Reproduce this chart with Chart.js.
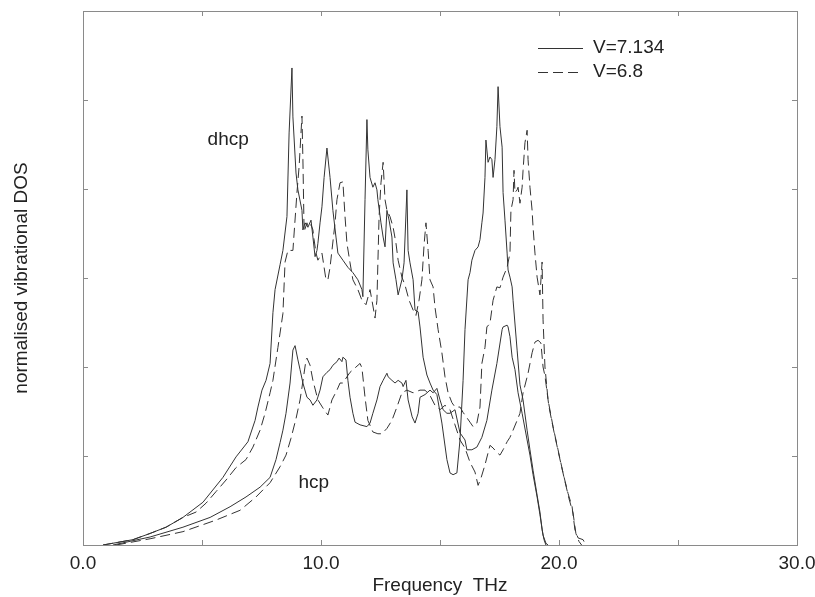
<!DOCTYPE html>
<html>
<head>
<meta charset="utf-8">
<script src="https://cdn.jsdelivr.net/npm/chart.js@4.4.1/dist/chart.umd.min.js"></script>
<style>
  body { margin: 0; background: #fff; }
  canvas { display: block; }
</style>
</head>
<body>
<canvas id="dosChart" width="815" height="597"></canvas>
<script>
// [frequency THz, DOS] pairs
const dhcpV7134 = [
  [0.84,0],[2.10,0.06],[2.82,0.13],[3.49,0.20],[4.20,0.31],[5.04,0.48],[5.88,0.76],[6.43,0.99],
  [6.93,1.16],[7.23,1.40],[7.35,1.55],[7.52,1.74],[7.69,1.85],[7.86,2.04],[7.98,2.61],[8.07,2.87],
  [8.28,3.15],[8.40,3.31],[8.57,3.69],[8.66,4.63],[8.78,5.36],[8.82,4.81],[8.95,4.18],[9.03,3.99],
  [9.20,3.76],[9.24,3.54],[9.33,3.62],[9.45,3.57],[9.58,3.65],[9.66,3.46],[9.75,3.24],[9.83,3.31],
  [9.87,3.39],[9.96,3.62],[10.04,3.80],[10.13,4.13],[10.25,4.46],[10.38,4.13],[10.50,3.76],[10.63,3.46],
  [10.71,3.28],[10.92,3.20],[11.13,3.12],[11.34,3.06],[11.55,2.98],[11.72,2.87],[11.76,2.79],[11.85,3.88],
  [11.93,4.78],[11.97,4.44],[12.06,4.13],[12.18,4.02],[12.27,4.07],[12.35,3.99],[12.39,3.88],[12.52,3.62],
  [12.61,3.46],[12.69,3.35],[12.77,3.76],[12.86,3.65],[12.98,3.46],[13.03,3.17],[13.15,2.98],[13.24,2.81],
  [13.40,2.98],[13.49,3.17],[13.61,3.99],[13.66,3.31],[13.74,3.17],[13.87,2.98],[13.95,2.64],[14.08,2.62],
  [14.16,2.45],[14.29,2.11],[14.45,1.91],[14.58,1.82],[14.71,1.74],[14.87,1.69],[15.08,1.37],[15.29,0.96],
  [15.42,0.81],[15.55,0.79],[15.71,0.81],[15.84,1.18],[15.97,1.85],[16.05,2.42],[16.18,2.98],[16.26,3.06],
  [16.34,3.20],[16.47,3.31],[16.60,3.35],[16.68,3.43],[16.76,3.62],[16.81,3.73],[16.89,4.13],[16.93,4.55],
  [17.02,4.30],[17.10,4.36],[17.18,4.33],[17.23,4.13],[17.31,4.33],[17.39,4.70],[17.44,5.15],[17.52,4.70],
  [17.61,4.47],[17.65,3.96],[17.73,3.65],[17.82,3.28],[17.86,3.09],[17.94,3.01],[18.03,2.90],[18.07,2.75],
  [18.24,2.19],[18.36,1.80],[18.49,1.63],[18.66,1.29],[18.78,1.07],[18.91,0.84],[19.08,0.56],[19.20,0.37],
  [19.29,0.17],[19.37,0.06],[19.45,0]
];
const dhcpV68 = [
  [0.84,0],[2.10,0.06],[2.82,0.13],[3.49,0.20],[4.20,0.31],[4.75,0.37],[5.17,0.47],[5.59,0.60],
  [6.01,0.73],[6.43,0.87],[6.85,0.96],[7.14,1.10],[7.44,1.29],[7.65,1.48],[7.86,1.71],[7.98,1.85],
  [8.19,2.22],[8.40,2.60],[8.49,3.18],[8.61,3.31],[8.82,3.31],[8.99,3.96],[9.08,4.25],[9.20,4.82],
  [9.24,4.33],[9.29,3.52],[9.41,3.62],[9.45,3.57],[9.58,3.60],[9.66,3.54],[9.71,3.43],[9.79,3.28],
  [9.87,3.20],[10.04,3.28],[10.13,3.12],[10.21,2.98],[10.29,2.98],[10.38,3.12],[10.46,3.31],[10.59,3.62],
  [10.67,3.88],[10.80,4.07],[10.92,4.08],[11.01,3.69],[11.09,3.39],[11.22,3.17],[11.34,2.98],[11.55,2.87],
  [11.72,2.75],[11.89,2.70],[12.06,2.87],[12.14,2.75],[12.27,2.55],[12.35,2.75],[12.44,3.69],[12.52,4.07],
  [12.61,4.30],[12.69,3.88],[12.77,3.76],[12.90,3.69],[13.03,3.57],[13.15,3.39],[13.24,3.20],[13.40,3.01],
  [13.53,2.92],[13.70,2.75],[13.87,2.64],[13.99,2.58],[14.12,2.75],[14.24,2.98],[14.33,3.37],[14.41,3.62],
  [14.50,3.31],[14.58,2.98],[14.71,2.90],[14.79,2.67],[14.92,2.42],[15.08,2.16],[15.21,1.89],[15.34,1.71],
  [15.50,1.60],[15.63,1.55],[15.84,1.55],[15.97,1.49],[16.13,1.43],[16.26,1.38],[16.39,1.33],[16.55,1.37],
  [16.68,1.55],[16.76,2.04],[16.89,2.22],[16.97,2.45],[17.10,2.49],[17.23,2.75],[17.39,2.90],[17.52,2.89],
  [17.65,3.01],[17.82,3.12],[17.94,3.28],[17.98,3.76],[18.07,3.88],[18.11,4.21],[18.15,3.96],[18.24,3.99],
  [18.28,4.02],[18.36,3.84],[18.45,4.02],[18.49,4.21],[18.57,4.52],[18.66,4.66],[18.70,4.33],[18.78,4.02],
  [18.87,3.76],[18.91,3.57],[18.99,3.28],[19.08,3.01],[19.20,2.81],[19.29,3.18],[19.33,2.53],[19.41,2.00],
  [19.54,1.63],[19.75,1.33],[19.96,1.07],[20.17,0.81],[20.38,0.58],[20.55,0.43],[20.67,0.17],[20.80,0.08],
  [21.01,0.06],[21.13,0]
];
const hcpV7134 = [
  [1.26,0],[2.82,0.09],[4.20,0.20],[5.34,0.31],[6.18,0.43],[6.85,0.54],[7.44,0.65],[7.86,0.76],
  [8.11,0.96],[8.28,1.15],[8.40,1.29],[8.53,1.48],[8.70,1.82],[8.82,2.19],[8.91,2.24],[9.03,2.08],
  [9.12,1.97],[9.24,1.82],[9.41,1.66],[9.54,1.63],[9.66,1.57],[9.83,1.63],[9.96,1.74],[10.08,1.89],
  [10.25,1.94],[10.38,1.97],[10.50,2.02],[10.67,2.06],[10.76,2.10],[10.88,2.06],[10.92,2.11],[11.05,2.08],
  [11.13,1.85],[11.22,1.66],[11.34,1.48],[11.43,1.38],[11.64,1.35],[11.93,1.33],[12.06,1.37],[12.18,1.48],
  [12.35,1.63],[12.48,1.78],[12.61,1.85],[12.77,1.93],[12.82,1.89],[12.98,1.85],[13.11,1.82],[13.24,1.85],
  [13.40,1.82],[13.45,1.78],[13.57,1.85],[13.66,1.63],[13.83,1.44],[13.95,1.37],[14.08,1.48],[14.16,1.66],
  [14.37,1.69],[14.58,1.74],[14.71,1.71],[14.87,1.76],[15.00,1.63],[15.13,1.52],[15.29,1.48],[15.42,1.48],
  [15.63,1.52],[15.84,1.26],[16.05,1.18],[16.13,1.07],[16.34,1.07],[16.55,1.10],[16.76,1.21],[16.97,1.40],
  [17.18,1.74],[17.39,2.04],[17.61,2.42],[17.65,2.45],[17.82,2.47],[17.86,2.45],[17.94,2.34],[18.03,2.11],
  [18.15,1.97],[18.28,1.71],[18.45,1.48],[18.66,1.18],[18.78,1.01],[18.91,0.79],[19.08,0.54],[19.20,0.34],
  [19.33,0.11],[19.45,0.02],[19.54,0]
];
const hcpV68 = [
  [1.39,0],[2.82,0.07],[4.20,0.15],[5.59,0.28],[6.60,0.39],[7.27,0.54],[7.86,0.70],[8.28,0.88],
  [8.53,1.01],[8.74,1.20],[8.95,1.42],[9.12,1.63],[9.24,1.84],[9.37,2.08],[9.41,2.10],[9.54,2.02],
  [9.66,1.85],[9.87,1.63],[10.08,1.54],[10.29,1.46],[10.46,1.63],[10.67,1.74],[10.80,1.82],[10.92,1.82],
  [11.09,1.89],[11.22,1.94],[11.43,1.99],[11.64,2.04],[11.72,1.99],[11.85,1.66],[11.97,1.40],[12.18,1.27],
  [12.39,1.25],[12.56,1.25],[12.77,1.31],[12.98,1.40],[13.19,1.55],[13.40,1.71],[13.61,1.74],[13.87,1.71],
  [14.16,1.74],[14.37,1.74],[14.58,1.68],[14.79,1.57],[15.00,1.52],[15.21,1.57],[15.42,1.52],[15.63,1.35],
  [15.84,1.18],[16.05,1.09],[16.26,0.93],[16.47,0.82],[16.60,0.67],[16.72,0.75],[16.89,0.90],[17.10,1.12],
  [17.23,1.09],[17.39,1.04],[17.52,1.01],[17.65,1.07],[17.82,1.16],[17.94,1.21],[18.07,1.29],[18.24,1.40],
  [18.36,1.48],[18.49,1.71],[18.70,1.93],[18.87,2.16],[18.99,2.28],[19.12,2.30],[19.24,2.27],[19.33,2.00],
  [19.41,1.90],[19.58,1.55],[19.79,1.27],[20.00,1.01],[20.21,0.76],[20.42,0.52],[20.59,0.36],[20.71,0.13],
  [20.84,0.04],[20.95,0]
];

const xLabelled = [0, 10, 20, 30];   // ticks that carry a label
const seriesNames = ["V=7.134", "V=6.8"];
const phaseNotes = [
  { text: "dhcp", x: 6.1, y: 4.55 },
  { text: "hcp", x: 9.7, y: 0.70 }
];

const FONT = "'Liberation Sans', Arial, Helvetica, sans-serif";
const INK = "#333";
const DASH = [10, 5];

const toPoints = arr => arr.map(([x, y]) => ({ x, y }));

// frame, inward ticks, legend and phase labels
const decorations = {
  id: "decorations",
  afterDraw(chart) {
    const { ctx, chartArea: a, scales: { x, y } } = chart;
    ctx.save();
    ctx.strokeStyle = "#8a8a8a";
    ctx.lineWidth = 1;
    ctx.strokeRect(a.left + 0.5, a.top + 0.5, a.right - a.left, a.bottom - a.top);

    ctx.beginPath();
    for (let v = 5; v < 30; v += 5) {
      const px = Math.round(x.getPixelForValue(v)) + 0.5;
      ctx.moveTo(px, a.bottom); ctx.lineTo(px, a.bottom - 5);
      ctx.moveTo(px, a.top); ctx.lineTo(px, a.top + 5);
    }
    for (let v = 1; v < 6; v++) {
      const py = Math.round(y.getPixelForValue(v)) + 0.5;
      ctx.moveTo(a.left, py); ctx.lineTo(a.left + 5, py);
      ctx.moveTo(a.right, py); ctx.lineTo(a.right - 5, py);
    }
    ctx.stroke();

    // legend
    ctx.fillStyle = "#222";
    ctx.font = "19px " + FONT;
    ctx.textBaseline = "middle";
    seriesNames.forEach((name, i) => {
      const ly = 48 + i * 24;
      ctx.strokeStyle = INK;
      ctx.setLineDash(i === 0 ? [] : DASH);
      ctx.beginPath();
      ctx.moveTo(538, ly + 0.5); ctx.lineTo(583, ly + 0.5);
      ctx.stroke();
      ctx.fillText(name, 593, ly);
    });
    ctx.setLineDash([]);

    ctx.textAlign = "center";
    phaseNotes.forEach(n => {
      ctx.fillText(n.text, x.getPixelForValue(n.x), y.getPixelForValue(n.y));
    });
    ctx.restore();
  }
};

new Chart(document.getElementById("dosChart"), {
  type: "line",
  data: {
    datasets: [
      { label: seriesNames[0], data: toPoints(dhcpV7134) },
      { label: seriesNames[1], data: toPoints(dhcpV68), borderDash: DASH },
      { label: seriesNames[0], data: toPoints(hcpV7134) },
      { label: seriesNames[1], data: toPoints(hcpV68), borderDash: DASH }
    ]
  },
  options: {
    responsive: false,
    animation: false,
    devicePixelRatio: 1,
    layout: { padding: { top: 11, right: 18, left: 0, bottom: 0 } },
    elements: {
      point: { radius: 0 },
      line: { borderWidth: 1, borderColor: INK, tension: 0, fill: false }
    },
    plugins: { legend: { display: false }, tooltip: { enabled: false } },
    scales: {
      x: {
        type: "linear", min: 0, max: 30,
        afterFit: s => { s.height = 52; s.paddingLeft = 0; s.paddingRight = 0; },
        grid: { display: false, drawTicks: false },
        border: { display: false },
        ticks: {
          stepSize: 5, autoSkip: false, maxRotation: 0, padding: 7, color: "#222",
          font: { family: FONT, size: 19 },
          callback: v => xLabelled.includes(v) ? v.toFixed(1) : ""
        },
        title: {
          display: true, text: "Frequency  THz", color: "#222",
          font: { family: FONT, size: 19 }, padding: 0
        }
      },
      y: {
        min: 0, max: 6,
        afterFit: s => { s.width = 83; s.paddingTop = 0; s.paddingBottom = 0; },
        grid: { display: false, drawTicks: false },
        border: { display: false },
        ticks: { display: false, stepSize: 1 },
        title: {
          display: true, text: "normalised vibrational DOS", color: "#222",
          font: { family: FONT, size: 19 }, padding: { top: 10, bottom: 0 }
        }
      }
    }
  },
  plugins: [decorations]
});
</script>
</body>
</html>
